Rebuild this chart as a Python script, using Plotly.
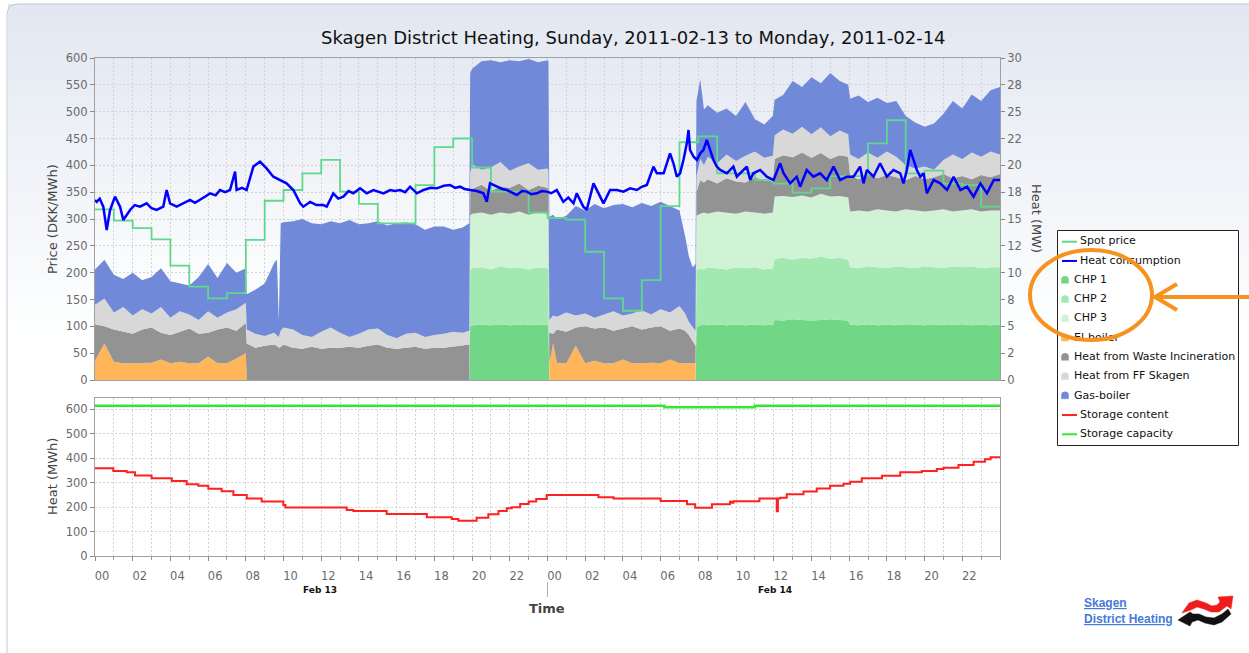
import pandas as pd
import plotly.graph_objects as go

W, H = 1249, 653
BASE = pd.Timestamp("2011-02-13 00:00")

# ---------------- data ----------------
# time in hours after 2011-02-13 00:00
prod_hours = [
    0, 0.5, 1, 1.5, 2, 2.5, 3, 3.5, 4, 4.5, 5, 5.5, 6, 6.5, 7, 7.5, 8,
    8.05, 8.5, 9, 9.5, 9.65, 9.75, 9.85, 10, 10.5, 11, 11.5, 12, 12.5, 13, 13.5,
    14, 14.5, 15, 15.5, 16, 16.5, 17, 17.5, 18, 18.5, 19, 19.5, 19.85,
    19.9, 20, 20.5, 21, 21.5, 22, 22.5, 23, 23.5, 24, 24.05,
    24.1, 24.3, 24.5, 25, 25.5, 26, 26.5, 27, 27.5, 28, 28.5, 29, 29.5, 30, 30.5,
    31, 31.3, 31.5, 31.7, 31.85,
    31.9, 32.1, 32.3, 32.5, 33, 33.5, 34, 34.5, 35, 35.5, 35.95, 36.05, 36.5, 37,
    37.5, 38, 38.5, 39, 39.5, 39.95, 40.05, 40.5, 41, 41.5, 42, 42.5, 43, 43.5,
    44, 44.5, 45, 45.5, 46, 46.5, 47, 47.5, 48,
]

# heat production per unit (MW)
chp1 = [
    0, 0, 0, 0, 0, 0, 0, 0, 0, 0, 0, 0, 0, 0, 0, 0, 0,
    0, 0, 0, 0, 0, 0, 0, 0, 0, 0, 0, 0, 0, 0, 0, 0, 0, 0, 0, 0, 0, 0, 0, 0, 0, 0, 0, 0,
    5.0, 5.1, 5.15, 5.1, 5.2, 5.1, 5.15, 5.1, 5.2, 5.1, 5.0,
    0, 0, 0, 0, 0, 0, 0, 0, 0, 0, 0, 0, 0, 0, 0, 0, 0, 0, 0, 0,
    4.9, 5.1, 5.15, 5.1, 5.2, 5.1, 5.15, 5.1, 5.2, 5.1, 5.15,
    5.6, 5.55, 5.65, 5.6, 5.55, 5.6, 5.65, 5.6, 5.55,
    5.15, 5.1, 5.2, 5.1, 5.15, 5.1, 5.2, 5.15, 5.1, 5.2, 5.1, 5.15, 5.2, 5.1, 5.15, 5.1, 5.2,
]
chp2 = [
    0, 0, 0, 0, 0, 0, 0, 0, 0, 0, 0, 0, 0, 0, 0, 0, 0,
    0, 0, 0, 0, 0, 0, 0, 0, 0, 0, 0, 0, 0, 0, 0, 0, 0, 0, 0, 0, 0, 0, 0, 0, 0, 0, 0, 0,
    5.2, 5.3, 5.35, 5.2, 5.4, 5.3, 5.35, 5.2, 5.3, 5.3, 5.3,
    0, 0, 0, 0, 0, 0, 0, 0, 0, 0, 0, 0, 0, 0, 0, 0, 0, 0, 0, 0,
    5.3, 5.3, 5.15, 5.4, 5.2, 5.2, 5.35, 5.3, 5.3, 5.2, 5.25,
    5.7, 5.85, 5.55, 5.8, 5.75, 5.9, 5.65, 5.8, 5.65,
    5.35, 5.3, 5.4, 5.4, 5.25, 5.5, 5.3, 5.25, 5.5, 5.3, 5.3, 5.45, 5.3, 5.5, 5.25, 5.4, 5.3,
]
chp3 = [
    0, 0, 0, 0, 0, 0, 0, 0, 0, 0, 0, 0, 0, 0, 0, 0, 0,
    0, 0, 0, 0, 0, 0, 0, 0, 0, 0, 0, 0, 0, 0, 0, 0, 0, 0, 0, 0, 0, 0, 0, 0, 0, 0, 0, 0,
    5.1, 5.1, 5.1, 5.1, 5.0, 5.1, 5.2, 5.1, 5.1, 5.1, 5.1,
    0, 0, 0, 0, 0, 0, 0, 0, 0, 0, 0, 0, 0, 0, 0, 0, 0, 0, 0, 0,
    5.1, 5.1, 5.3, 5.0, 5.3, 5.3, 5.0, 5.3, 5.1, 5.2, 5.2,
    5.8, 5.75, 5.85, 5.8, 5.7, 5.85, 5.8, 5.75, 5.8,
    5.2, 5.4, 5.1, 5.4, 5.4, 5.1, 5.4, 5.4, 5.1, 5.3, 5.5, 5.1, 5.3, 5.3, 5.3, 5.3, 5.3,
]
el_boiler = [
    1.8, 3.4, 1.7, 1.55, 1.55, 1.55, 1.6, 1.9, 1.55, 1.7, 1.55, 1.55, 2.2, 1.55, 1.55, 2.0, 2.5,
    0, 0, 0, 0, 0, 0, 0, 0, 0, 0, 0, 0, 0, 0, 0, 0, 0, 0, 0, 0, 0, 0, 0, 0, 0, 0, 0, 0,
    0, 0, 0, 0, 0, 0, 0, 0, 0, 0, 0,
    1.55, 3.4, 1.6, 1.55, 3.2, 1.55, 1.8, 1.55, 1.55, 1.9, 1.55, 1.55, 1.6, 1.55, 1.9,
    1.55, 1.55, 1.55, 1.55, 1.55,
    0, 0, 0, 0, 0, 0, 0, 0, 0, 0, 0, 0, 0, 0, 0, 0, 0, 0, 0, 0, 0, 0, 0, 0, 0, 0, 0,
    0, 0, 0, 0, 0, 0, 0, 0, 0, 0,
]
waste = [
    3.4, 1.6, 3.0, 2.95, 2.75, 3.15, 3.3, 2.5, 2.65, 2.8, 3.25, 2.75, 2.2, 3.15, 3.35, 2.6, 2.8,
    3.4, 3.0, 3.2, 3.3, 3.2, 3.0, 3.1, 3.3, 3.0, 2.9, 3.1, 2.9, 3.0, 3.0, 3.1, 3.0, 3.2, 3.3,
    3.0, 2.9, 3.0, 3.1, 2.9, 3.0, 3.0, 3.1, 3.2, 3.3,
    2.2, 2.3, 2.6, 2.2, 2.4, 2.4, 2.6, 2.3, 2.5, 2.4, 2.4,
    2.85, 0.9, 3.1, 2.95, 1.7, 3.45, 3.0, 3.35, 3.05, 2.9, 3.45, 3.15, 3.3, 3.45, 2.7,
    3.25, 3.05, 2.65, 2.05, 1.65,
    2.2, 3.1, 2.8, 3.2, 2.6, 3.2, 3.0, 2.7, 3.3, 3.1, 2.9,
    3.5, 3.8, 3.7, 4.0, 3.7, 3.8, 3.5, 3.8, 3.8,
    3.3, 2.9, 3.5, 2.9, 3.3, 3.2, 2.7, 3.2, 3.0, 3.1, 3.3, 3.1, 3.2, 2.8, 3.4, 3.1, 3.4,
]
ff_skagen = [
    1.8, 2.6, 1.6, 2.3, 1.7, 1.9, 1.3, 2.4, 1.6, 1.9, 1.3, 1.3, 2.0, 1.1, 1.4, 2.0, 1.9,
    1.3, 1.3, 0.9, 1.1, 1.0, 1.0, 1.5, 1.6, 1.7, 1.3, 0.9, 1.6, 1.9, 1.4, 0.9, 1.3, 1.5, 1.5,
    1.2, 1.0, 1.3, 1.3, 1.1, 1.2, 1.3, 1.4, 1.2, 1.3,
    1.8, 2.3, 1.4, 2.2, 2.3, 1.6, 1.6, 2.5, 1.5, 1.8, 1.7,
    1.2, 1.7, 1.2, 1.8, 1.1, 1.2, 1.0, 1.2, 1.8, 1.2, 1.2, 1.8, 1.2, 1.6, 1.7,
    2.1, 1.6, 1.2, 1.3, 1.4,
    1.5, 2.0, 1.6, 2.1, 1.9, 2.2, 1.9, 2.5, 2.4, 2.1, 2.4,
    2.2, 2.4, 2.2, 2.4, 2.2, 2.4, 2.1, 2.3, 2.1,
    2.0, 1.9, 2.0, 1.9, 2.2, 1.9, 1.4, 0.7, 1.2, 0.7, 1.3, 2.2, 1.6, 2.5, 1.7, 2.4, 1.8,
]
gas_boiler = [
    3.3, 3.6, 3.5, 2.6, 4.0, 2.7, 3.4, 3.6, 3.4, 2.6, 2.7, 4.0, 4.4, 3.7, 4.6, 3.4, 3.2,
    3.3, 4.1, 4.9, 6.5, 7.0, 1.5, 10.0, 9.8, 10.1, 10.8, 10.6, 10.0, 9.9, 10.2, 10.9, 10.2,
    9.9, 10.0, 10.2, 10.7, 10.4, 10.1, 10.0, 10.1, 10.0, 9.5, 9.8, 10.0,
    9.3, 8.9, 10.1, 10.0, 9.3, 10.3, 9.8, 9.7, 10.0, 10.1, 10.2,
    9.6, 9.4, 9.1, 9.0, 10.2, 9.6, 10.6, 9.9, 9.9, 10.4, 9.9, 10.0, 10.1, 10.0, 9.9,
    8.9, 7.2, 6.1, 5.6, 6.2,
    7.0, 7.4, 5.2, 4.8, 4.7, 4.3, 4.2, 5.0, 3.0, 3.1, 3.7,
    3.3, 3.2, 4.9, 3.7, 5.3, 4.1, 5.9, 4.6, 4.6,
    5.2, 5.9, 4.7, 5.6, 4.5, 5.2, 4.6, 4.3, 3.7, 4.3, 4.3, 5.0, 4.7, 5.4, 5.2, 5.7, 6.3,
]

# hourly spot price (DKK/MWh), hour 0 .. 47
spot_price = [
    318, 297, 283, 262, 213, 174, 152, 162, 261, 334, 354, 385, 410, 351, 328, 292,
    292, 363, 434, 450, 396, 351, 351, 312, 302, 299, 239, 152, 129, 186, 324, 443,
    454, 385, 385, 373, 366, 349, 357, 380, 380, 441, 484, 385, 390, 366, 363, 323,
]

# heat consumption (hour, MW)
heat_consumption = [
    (0, 16.77), (0.09, 16.6), (0.25, 16.9), (0.44, 16.15), (0.62, 13.98), (0.8, 15.84),
    (1.06, 17.08), (1.33, 16.15), (1.5, 14.9), (1.86, 15.84), (2.1, 16.3), (2.39, 16.15),
    (2.74, 16.46), (3.0, 16.0), (3.27, 15.84), (3.62, 16.15), (3.8, 17.7), (3.98, 16.46),
    (4.33, 16.15), (4.7, 16.5), (5.04, 16.77), (5.3, 16.5), (5.57, 16.77), (5.85, 17.1),
    (6.1, 17.39), (6.4, 17.2), (6.63, 17.7), (6.9, 17.5), (7.16, 17.7), (7.43, 19.41),
    (7.51, 17.7), (7.8, 17.9), (8.04, 17.7), (8.4, 19.88), (8.75, 20.34), (9.1, 19.72),
    (9.46, 18.94), (9.81, 18.63), (10.16, 18.32), (10.52, 17.7), (10.88, 16.46),
    (11.05, 16.15), (11.41, 16.6), (11.75, 16.3), (12.11, 16.3), (12.29, 16.15),
    (12.64, 17.39), (12.9, 16.9), (13.17, 17.08), (13.45, 17.6), (13.7, 17.39),
    (14.06, 17.86), (14.41, 17.39), (14.77, 17.7), (15.05, 17.5), (15.3, 17.39),
    (15.65, 17.7), (15.9, 17.6), (16.18, 17.7), (16.45, 17.5), (16.71, 18.01),
    (17.07, 17.39), (17.42, 17.7), (17.8, 17.9), (18.13, 17.86), (18.5, 18.1),
    (18.83, 18.17), (19.1, 17.9), (19.36, 18.01), (19.6, 17.8), (19.9, 17.7),
    (20.25, 17.6), (20.6, 17.39), (20.78, 16.6), (20.95, 18.32), (21.31, 18.01),
    (21.6, 17.8), (21.84, 17.7), (22.1, 17.5), (22.37, 17.24), (22.65, 17.6),
    (22.9, 17.55), (23.15, 17.3), (23.43, 17.39), (23.7, 17.6), (23.96, 17.55),
    (24.2, 17.4), (24.49, 17.7), (24.84, 16.6), (25.1, 17.0), (25.38, 16.46),
    (25.55, 17.39), (25.9, 16.15), (26.08, 15.84), (26.44, 18.32), (26.79, 17.08),
    (26.97, 16.46), (27.32, 17.7), (27.68, 17.7), (28.03, 17.55), (28.38, 17.86),
    (28.74, 17.7), (29.0, 18.0), (29.27, 18.17), (29.62, 19.88), (29.8, 19.26),
    (30.16, 19.26), (30.5, 21.12), (30.68, 20.19), (30.86, 18.94), (31.03, 19.26),
    (31.21, 20.5), (31.39, 22.05), (31.48, 23.29), (31.56, 21.43), (31.75, 20.8),
    (31.92, 20.5), (32.1, 21.12), (32.27, 21.43), (32.45, 22.36), (32.63, 21.43),
    (32.8, 20.5), (32.98, 19.88), (33.16, 19.57), (33.51, 19.26), (33.86, 19.88),
    (34.04, 18.94), (34.22, 19.26), (34.57, 19.88), (34.75, 18.63), (34.92, 19.26),
    (35.28, 19.57), (35.63, 18.94), (35.99, 18.63), (36.34, 20.19), (36.52, 19.26),
    (36.87, 18.32), (37.22, 18.94), (37.4, 18.01), (37.75, 19.57), (38.1, 18.94),
    (38.46, 19.26), (38.81, 18.63), (39.17, 19.88), (39.52, 18.63), (39.88, 18.94),
    (40.23, 18.94), (40.58, 19.88), (40.76, 18.32), (40.94, 19.57), (41.29, 18.94),
    (41.64, 20.19), (42.0, 18.94), (42.35, 19.57), (42.71, 19.26), (42.88, 18.32),
    (43.06, 19.57), (43.24, 21.43), (43.41, 20.5), (43.59, 19.57), (43.77, 18.94),
    (43.95, 19.26), (44.12, 17.39), (44.48, 18.63), (44.83, 18.32), (45.19, 17.7),
    (45.54, 18.94), (45.9, 17.7), (46.25, 18.01), (46.6, 17.08), (46.96, 18.32),
    (47.31, 17.39), (47.67, 18.63), (48.0, 18.63),
]

# storage content (hour, MWh) - stepwise
storage_content = [
    (0, 358), (0.97, 347), (1.68, 341.5), (2.12, 329), (3.0, 317), (4.07, 306),
    (4.86, 292.5), (5.48, 287), (6.01, 275), (6.72, 264), (7.34, 249), (8.05, 235),
    (8.84, 222), (9.99, 208), (10.1, 198), (13.35, 188), (13.7, 184), (15.47, 171),
    (17.6, 158), (18.92, 151), (19.27, 144), (20.24, 156), (20.86, 170), (21.4, 184),
    (21.84, 195), (22.1, 199), (22.55, 212), (23.0, 222), (23.4, 233), (23.96, 249),
    (26.7, 240), (27.5, 235), (30.0, 224.5), (31.4, 211), (31.83, 197), (32.72, 211),
    (33.68, 221), (33.75, 217), (33.86, 224), (35.24, 235), (36.16, 183), (36.22, 235),
    (36.34, 238), (36.69, 252), (37.58, 263), (38.28, 276), (38.99, 287), (39.7, 295),
    (40.05, 303), (40.67, 317), (41.74, 328), (42.71, 341.5), (43.85, 347), (44.65, 355),
    (45.0, 360.5), (45.8, 371), (46.6, 385), (47.2, 395), (47.5, 403), (48.0, 403),
]
storage_capacity = [(0, 613), (30.2, 607), (35.0, 613), (48, 613)]

mw_ticks = [0, 2.5, 5, 7.5, 10, 12.5, 15, 17.5, 20, 22.5, 25, 27.5, 30]
mw_ticktext = ["0", "2", "5", "8", "10", "12", "15", "18", "20", "22", "25", "28", "30"]
hour_ticks = [0, 2, 4, 6, 8, 10, 12, 14, 16, 18, 20, 22, 24, 26, 28, 30, 32, 34, 36, 38, 40, 42, 44, 46]
hour_labels = ["00", "02", "04", "06", "08", "10", "12", "14", "16", "18", "20", "22",
               "00", "02", "04", "06", "08", "10", "12", "14", "16", "18", "20", "22"]

# series styles (name, kind, colour) in legend order
series_style = [
    ("Spot price", "line", "#5ed98b"),
    ("Heat consumption", "line", "#0000ff"),
    ("CHP 1", "area", "#72d687"),
    ("CHP 2", "area", "#a2e8b1"),
    ("CHP 3", "area", "#d0f3d6"),
    ("El-boiler", "area", "#ffb55a"),
    ("Heat from Waste Incineration", "area", "#939393"),
    ("Heat from FF Skagen", "area", "#d8d8d8"),
    ("Gas-boiler", "area", "#7189d9"),
    ("Storage content", "line", "#ff2020"),
    ("Storage capacity", "line", "#33e633"),
]
COL = {n: c for n, _, c in series_style}


# ---------------- helpers ----------------
def T(hours):
    return [BASE + pd.Timedelta(hours=float(h)) for h in hours]


def X(x):
    return x / W


def Y(y):
    return 1 - y / H


def lerp(c0, c1, f):
    return "rgb(%d,%d,%d)" % tuple(round(a + (b - a) * f) for a, b in zip(c0, c1))


def poly(points):
    return "M " + " L ".join(f"{X(x):.5f},{Y(y):.5f}" for x, y in points) + " Z"


TICKFONT = dict(family="DejaVu Sans", size=11.5, color="#6a6a6a")
GRID = dict(showgrid=True, gridcolor="#d3d3d3", griddash="2px,2px", gridwidth=1)
BOX = "#a0a0a0"

fig = go.Figure()

# stacked production areas (MW)
stack = [
    ("CHP 1", chp1), ("CHP 2", chp2), ("CHP 3", chp3), ("El-boiler", el_boiler),
    ("Heat from Waste Incineration", waste), ("Heat from FF Skagen", ff_skagen),
    ("Gas-boiler", gas_boiler),
]
tprod = T(prod_hours)
for name, vals in stack:
    fig.add_trace(go.Scatter(
        x=tprod, y=vals, name=name, mode="lines", stackgroup="prod",
        line=dict(width=0, color=COL[name]), fillcolor=COL[name],
        xaxis="x", yaxis="y",
    ))

# spot price (left axis)
fig.add_trace(go.Scatter(
    x=T(list(range(49))), y=spot_price + [spot_price[-1]], name="Spot price",
    mode="lines", line=dict(color=COL["Spot price"], width=1.8, shape="hv"),
    xaxis="x", yaxis="y3",
))

# heat consumption (MW)
fig.add_trace(go.Scatter(
    x=T([h for h, _ in heat_consumption]), y=[v for _, v in heat_consumption],
    name="Heat consumption", mode="lines",
    line=dict(color=COL["Heat consumption"], width=2.5),
    xaxis="x", yaxis="y4",
))

# storage
fig.add_trace(go.Scatter(
    x=T([h for h, _ in storage_content]), y=[v for _, v in storage_content],
    name="Storage content", mode="lines",
    line=dict(color=COL["Storage content"], width=2, shape="hv"),
    xaxis="x2", yaxis="y2",
))
fig.add_trace(go.Scatter(
    x=T([h for h, _ in storage_capacity]), y=[v for _, v in storage_capacity],
    name="Storage capacity", mode="lines",
    line=dict(color=COL["Storage capacity"], width=2.5, shape="hv"),
    xaxis="x2", yaxis="y2",
))

# legend labels (drawn on a full-page pixel overlay so the highlight can sit on top)
LEG_X0, LEG_Y0, LEG_ROW = 1058, 241.7, 19.26
leg_x, leg_y, leg_txt = [], [], []
for i, (name, kind, _) in enumerate(series_style):
    leg_x.append(1080 if kind == "line" else 1074)
    leg_y.append(LEG_Y0 + i * LEG_ROW)
    leg_txt.append(name)
fig.add_trace(go.Scatter(
    x=leg_x, y=leg_y, text=leg_txt, mode="text", textposition="middle right",
    textfont=dict(family="DejaVu Sans", size=11, color="#111111"),
    xaxis="x5", yaxis="y5", hoverinfo="skip",
))

xdom = [X(95), X(1000)]
xr = [BASE, BASE + pd.Timedelta(hours=48)]

# ---------------- background / decoration shapes ----------------
shapes = []
n = 26
for i in range(n):
    ya = 4 + (340 - 4) * i / n
    yb = 4 + (340 - 4) * (i + 1) / n + 0.6
    shapes.append(dict(type="rect", xref="paper", yref="paper", x0=X(8), x1=X(1249),
                       y0=Y(yb), y1=Y(ya), line_width=0, layer="below",
                       fillcolor=lerp((226, 231, 241), (255, 255, 255), (i + 0.5) / n)))
shapes.append(dict(type="path", xref="paper", yref="paper", layer="below",
                   path=f"M {X(7)},{Y(653)} L {X(7)},{Y(15)} Q {X(7)},{Y(4)} {X(18)},{Y(4)} L {X(1249)},{Y(4)}",
                   line=dict(color="#c3c8d0", width=1)))
n = 18
for i in range(n):
    ya = 58 + (310 - 58) * i / n
    yb = 58 + (310 - 58) * (i + 1) / n + 0.6
    shapes.append(dict(type="rect", xref="paper", yref="paper", x0=X(95), x1=X(1000),
                       y0=Y(yb), y1=Y(ya), line_width=0, layer="below",
                       fillcolor=lerp((229, 233, 243), (255, 255, 255), (i + 0.5) / n)))
shapes.append(dict(type="rect", xref="paper", yref="paper", x0=X(95), x1=X(1000),
                   y0=Y(556), y1=Y(398), line_width=0, fillcolor="white", layer="below"))
# day separator on time axis
shapes.append(dict(type="line", xref="paper", yref="paper", x0=X(547.5), x1=X(547.5),
                   y0=Y(597), y1=Y(582), line=dict(color="#b0b0b0", width=1)))

# legend box and symbols
shapes.append(dict(type="rect", xref="paper", yref="paper", layer="below",
                   x0=X(1057.5), x1=X(1238.5), y0=Y(445.5), y1=Y(230.5),
                   fillcolor="white", line=dict(color="#222222", width=1)))
for i, (name, kind, col) in enumerate(series_style):
    yc = LEG_Y0 + i * LEG_ROW
    if kind == "line":
        shapes.append(dict(type="line", xref="paper", yref="paper", layer="below",
                           x0=X(1062), x1=X(1077), y0=Y(yc), y1=Y(yc),
                           line=dict(color=col, width=2)))
    else:
        xa, xb, yt, yb = 1061.5, 1068.5, yc - 4, yc + 3
        path = (f"M {X(xa)},{Y(yb)} L {X(xa)},{Y(yt + 3)} Q {X(xa)},{Y(yt)} {X((xa + xb) / 2)},{Y(yt)} "
                f"Q {X(xb)},{Y(yt)} {X(xb)},{Y(yt + 3)} L {X(xb)},{Y(yb)} Z")
        shapes.append(dict(type="path", xref="paper", yref="paper", layer="below", path=path,
                           fillcolor=col, line=dict(color=col, width=0.5)))

# orange highlight ellipse + arrow (on top)
ORANGE = "#f7921e"
shapes.append(dict(type="circle", xref="paper", yref="paper", x0=X(1030), x1=X(1152),
                   y0=Y(340), y1=Y(250), line=dict(color=ORANGE, width=4), layer="above"))
shapes.append(dict(type="line", xref="paper", yref="paper", x0=X(1156), x1=X(1252),
                   y0=Y(297), y1=Y(297), line=dict(color=ORANGE, width=4), layer="above"))
shapes.append(dict(type="path", xref="paper", yref="paper", layer="above",
                   path=f"M {X(1177)},{Y(284)} L {X(1155)},{Y(297)} L {X(1177)},{Y(310)}",
                   line=dict(color=ORANGE, width=4)))
# logo
shapes.append(dict(type="path", xref="paper", yref="paper", fillcolor="#111111",
                   line=dict(color="#111111", width=0.5),
                   path=poly([(1228, 609), (1222, 614), (1214, 618), (1206, 617), (1199, 614),
                              (1193, 614), (1190, 612), (1178, 620), (1190, 626), (1192, 622),
                              (1198, 620), (1205, 623), (1214, 625), (1222, 622), (1231, 614)])))
shapes.append(dict(type="path", xref="paper", yref="paper", fillcolor="#ee1c1c",
                   line=dict(color="#ee1c1c", width=0.5),
                   path=poly([(1182, 613), (1189, 603), (1197, 600), (1206, 603), (1212, 606),
                              (1217, 605), (1220, 602), (1218, 597), (1233, 596), (1231, 609),
                              (1227, 606), (1219, 612), (1211, 612), (1204, 609), (1197, 607),
                              (1191, 610)])))

# ---------------- annotations ----------------
ann = [
    dict(text="Skagen District Heating, Sunday, 2011-02-13 to Monday, 2011-02-14",
         x=X(634), y=Y(38), font=dict(family="DejaVu Sans", size=18, color="#111111")),
    dict(text="Price (DKK/MWh)", x=X(52), y=Y(219), textangle=-90,
         font=dict(family="DejaVu Sans", size=13, color="#444444")),
    dict(text="Heat (MW)", x=X(1037), y=Y(218), textangle=90,
         font=dict(family="DejaVu Sans", size=13, color="#444444")),
    dict(text="Heat (MWh)", x=X(52), y=Y(477), textangle=-90,
         font=dict(family="DejaVu Sans", size=13, color="#444444")),
    dict(text="<b>Feb 13</b>", x=X(320), y=Y(590),
         font=dict(family="DejaVu Sans", size=9, color="#111111")),
    dict(text="<b>Feb 14</b>", x=X(775), y=Y(590),
         font=dict(family="DejaVu Sans", size=9, color="#111111")),
    dict(text="<b>Time</b>", x=X(547), y=Y(608),
         font=dict(family="DejaVu Sans", size=13, color="#444444")),
    dict(text="<a href='http://www.skagenfjernvarme.dk'><b><span style='text-decoration:underline'>Skagen</span></b></a>",
         x=X(1082), y=Y(603), xanchor="left",
         font=dict(family="Liberation Sans", size=12, color="#0000ee")),
    dict(text="<a href='http://www.skagenfjernvarme.dk'><b><span style='text-decoration:underline'>District Heating</span></b></a>",
         x=X(1082), y=Y(619), xanchor="left",
         font=dict(family="Liberation Sans", size=12, color="#0000ee")),
]
for a in ann:
    a.setdefault("xanchor", "center")
    a.update(xref="paper", yref="paper", yanchor="middle", showarrow=False)

fig.update_layout(
    width=W, height=H, margin=dict(l=0, r=0, t=0, b=0), autosize=False,
    paper_bgcolor="white", plot_bgcolor="rgba(0,0,0,0)",
    showlegend=False,
    shapes=shapes, annotations=ann,
    xaxis=dict(domain=xdom, anchor="y", type="date", range=xr, showticklabels=False,
               ticks="", dtick=3600000, tick0=BASE, zeroline=False,
               showline=True, mirror=True, linecolor=BOX, automargin=False, **GRID),
    yaxis=dict(domain=[Y(380), Y(58)], anchor="x", side="right", range=[0, 30],
               tickvals=mw_ticks, ticktext=mw_ticktext, ticks="outside", ticklen=4,
               tickcolor="#888888", tickfont=TICKFONT, zeroline=False,
               showline=True, mirror=True, linecolor=BOX, automargin=False, **GRID),
    yaxis3=dict(overlaying="y", anchor="x", side="left", range=[0, 600], dtick=50, tick0=0,
                ticks="outside", ticklen=4, tickcolor="#888888", tickfont=TICKFONT,
                showgrid=False, zeroline=False, showline=False, automargin=False),
    yaxis4=dict(overlaying="y", anchor="x", range=[0, 30], visible=False),
    xaxis2=dict(domain=xdom, anchor="y2", type="date", range=xr,
                tickmode="array", tickvals=T(hour_ticks), ticktext=hour_labels,
                ticks="outside", ticklen=4, tickcolor="#888888",
                tickfont=TICKFONT, ticklabelshift=7, ticklabelstandoff=5,
                minor=dict(dtick=3600000, tick0=BASE, ticks="outside", ticklen=3,
                           tickcolor="#999999", showgrid=True, gridcolor="#d3d3d3",
                           griddash="2px,2px"),
                zeroline=False, showline=True, mirror=True, linecolor=BOX,
                automargin=False, **GRID),
    yaxis2=dict(domain=[Y(556), Y(398)], anchor="x2", range=[0, 645], dtick=100, tick0=0,
                ticks="outside", ticklen=4, tickcolor="#888888", tickfont=TICKFONT,
                zeroline=False, showline=True, mirror=True, linecolor=BOX,
                automargin=False, **GRID),
    xaxis5=dict(domain=[0, 1], anchor="y5", range=[0, W], visible=False, fixedrange=True),
    yaxis5=dict(domain=[0, 1], anchor="x5", range=[H, 0], visible=False, fixedrange=True),
)

post = ("document.body.style.margin='0';document.body.style.overflow='hidden';"
        "var gd=document.getElementById('{plot_id}');"
        "gd.style.width='1249px';gd.style.height='653px';"
        "Plotly.relayout(gd,{width:1249,height:653});")
fig.write_html("out.html", config={"displayModeBar": False, "responsive": False},
               default_width="1249px", default_height="653px", post_script=post)
